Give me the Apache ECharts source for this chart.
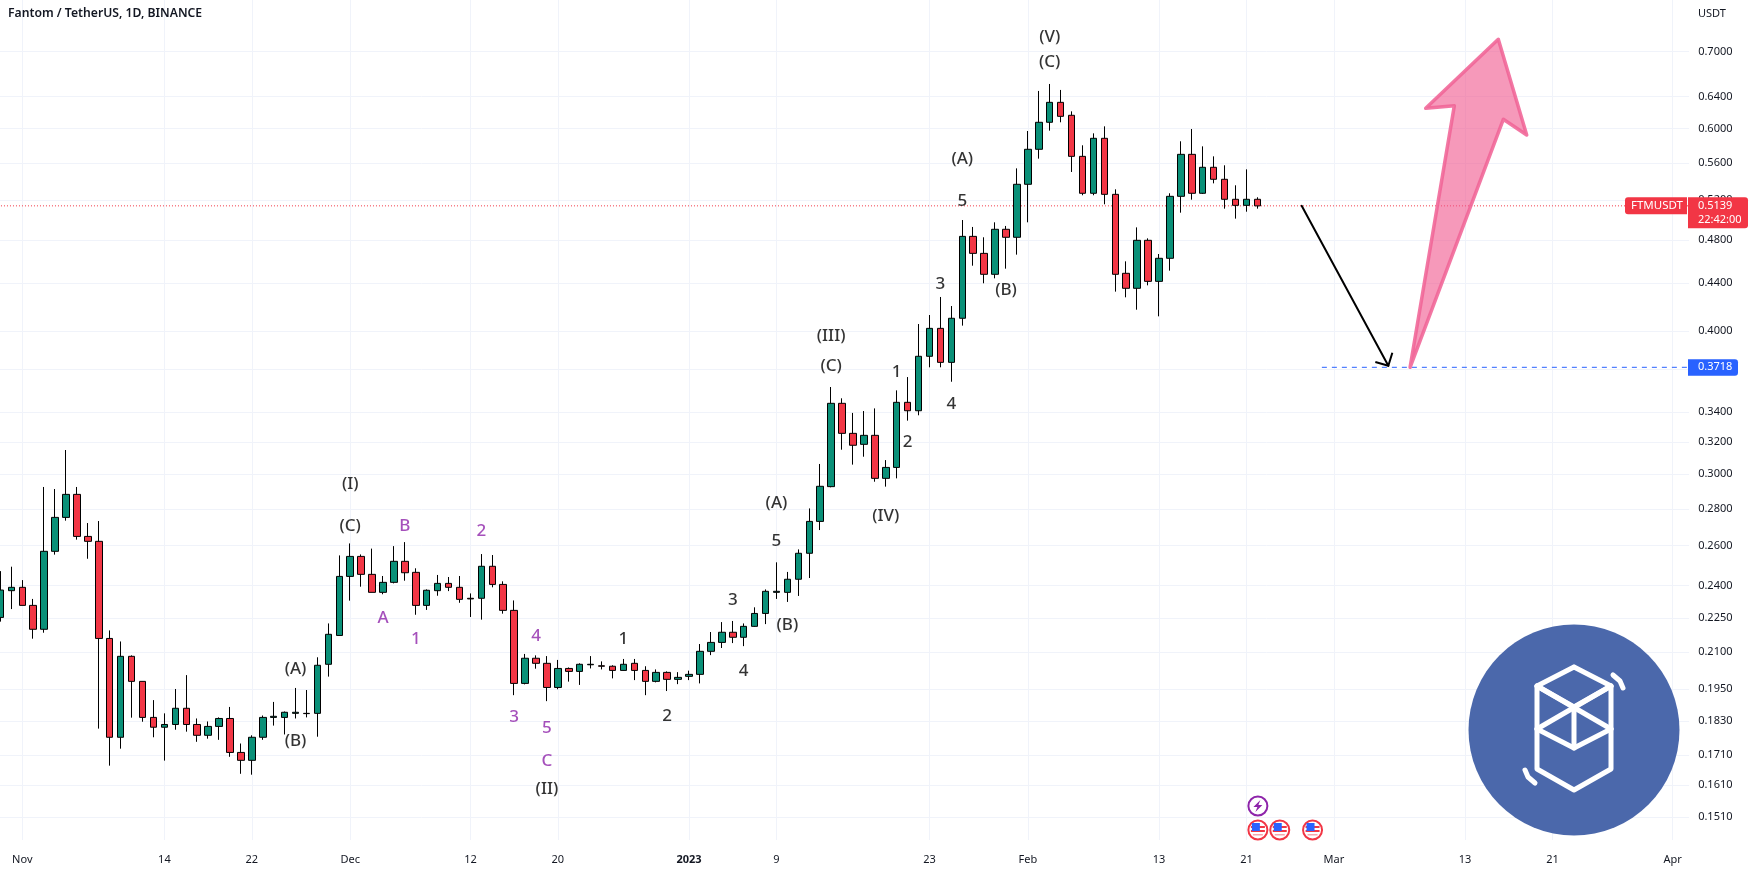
<!DOCTYPE html>
<html><head><meta charset="utf-8"><style>html,body{margin:0;padding:0;background:#fff}#main{width:1752px;height:871px}</style></head>
<body><div id="main"></div>
<script src="https://cdn.jsdelivr.net/npm/echarts@6/dist/echarts.min.js"></script>
<script>
const FONT = "'Noto Sans', sans-serif";
const startDay = -2;  // first candle, days after 1 Nov 2022
const endDay = 152;
const opens = [
.2252,.2376,.2392,.2307,.2199,.2571,.2752,.2882,.2649,.2623,
.2159,.1771,.2083,.1981,.1843,.1807,.1817,.1877,.1817,.1778,
.1810,.1839,.1718,.1691,.1771,.1843,.1843,.1858,.1858,.1858,
.2050,.2172,.2445,.2545,.2455,.2368,.2416,.2520,.2465,.2307,
.2376,.2411,.2392,.2340,.2340,.2495,.2406,.2284,.1973,.2075,
.2054,.1957,.2033,.2021,.2048,.2044,.2042,.2025,.2054,.2025,
.1981,.2017,.1989,.2001,.2009,.2104,.2142,.2186,.2164,.2212,
.2270,.2368,.2368,.2431,.2561,.2730,.2927,.3459,.3257,.3186,
.3244,.2976,.3042,.3466,.3408,.3801,.4020,.3755,.4102,.4834,
.4672,.4480,.4903,.4825,.5366,.5756,.6076,.6324,.6162,.5675,
.5270,.5884,.5259,.4489,.4356,.4796,.4417,.4626,.5238,.5698,
.5270,.5552,.5420,.5207,.5144,.5207];
const closes = [
.2379,.2392,.2307,.2199,.2571,.2752,.2882,.2649,.2623,.2159,
.1771,.2083,.1981,.1843,.1807,.1817,.1877,.1817,.1778,.1810,
.1839,.1718,.1691,.1771,.1843,.1847,.1862,.1862,.1857,.2046,
.2177,.2445,.2545,.2455,.2368,.2416,.2520,.2463,.2307,.2378,
.2411,.2392,.2335,.2337,.2495,.2406,.2284,.1973,.2075,.2054,
.1957,.2033,.2021,.2050,.2050,.2042,.2025,.2050,.2025,.1981,
.2017,.1989,.1997,.2009,.2104,.2142,.2186,.2164,.2212,.2270,
.2373,.2373,.2431,.2561,.2730,.2929,.3459,.3257,.3180,.3244,
.2976,.3042,.3466,.3408,.3801,.4020,.3755,.4102,.4834,.4672,
.4480,.4903,.4825,.5366,.5756,.6076,.6324,.6149,.5675,.5270,
.5884,.5259,.4480,.4356,.4796,.4417,.4626,.5238,.5698,.5270,
.5552,.5420,.5207,.5144,.5207,.5139];
const lows = [
.2233,.2290,.2307,.2158,.2184,.2554,.2734,.2632,.2533,.1802,
.1673,.1731,.1842,.1827,.1771,.1690,.1798,.1791,.1755,.1766,
.1762,.1703,.1646,.1643,.1762,.1813,.1781,.1839,.1843,.1773,
.2000,.2172,.2329,.2395,.2368,.2359,.2411,.2424,.2264,.2286,
.2352,.2374,.2319,.2254,.2242,.2392,.2269,.1927,.1969,.2032,
.1904,.1950,.1980,.1967,.2033,.2029,.1993,.2024,.1986,.1927,
.1977,.1943,.1970,.1986,.1973,.2088,.2118,.2139,.2126,.2210,
.2222,.2337,.2323,.2351,.2437,.2683,.2923,.3152,.3059,.3108,
.2956,.2927,.2976,.3341,.3377,.3718,.3718,.3612,.4042,.4558,
.4400,.4444,.4531,.4660,.4972,.5649,.5975,.6076,.5500,.5249,
.5249,.5155,.4327,.4278,.4173,.4382,.4118,.4513,.5069,.5203,
.5263,.5376,.5110,.5009,.5079,.5110];
const highs = [
.2471,.2493,.2427,.2337,.2925,.2913,.3150,.2925,.2721,.2732,
.2194,.2146,.2087,.1981,.1908,.1858,.1951,.2006,.1839,.1828,
.1843,.1882,.1749,.1778,.1850,.1901,.1865,.1955,.1947,.2079,
.2225,.2550,.2612,.2555,.2585,.2447,.2598,.2619,.2485,.2382,
.2452,.2442,.2447,.2363,.2557,.2552,.2421,.2330,.2093,.2087,
.2084,.2068,.2037,.2054,.2084,.2062,.2046,.2072,.2072,.2042,
.2029,.2021,.2018,.2024,.2135,.2187,.2231,.2236,.2225,.2298,
.2382,.2515,.2467,.2581,.2802,.3063,.3574,.3494,.3393,.3406,
.3424,.3087,.3550,.3646,.4055,.4129,.4281,.4204,.4995,.4926,
.4825,.4972,.4936,.5540,.5971,.6470,.6561,.6483,.6211,.5802,
.5943,.6027,.5312,.4598,.4922,.4815,.4666,.5270,.5849,.5995,
.5790,.5675,.5574,.5355,.5529,.5228];
const priceTicks = [0.70,0.64,0.60,0.56,0.52,0.48,0.44,0.40,0.37,0.34,0.32,0.30,0.28,0.26,0.24,0.225,0.21,0.195,0.183,0.171,0.161,0.151];
const timeTickDays = [0,13,21,30,41,49,61,69,83,92,104,112,120,132,140,151];
const timeTickLabels = ['Nov','14','22','Dec','12','20','2023','9','23','Feb','13','21','Mar','13','21','Apr'];
const lastPrice = 0.5139;
const targetPrice = 0.3718;
const waveTexts = ['(I)','(C)','(A)','(B)','A','B','2','1','4','3','5','C','(II)','1','2','3','4','(A)','5','(B)','(III)','(C)','1','2','4','(IV)','3','(V)','(C)','(A)','5','(B)'];
const waveDays = [30,30,25,25,33,35,42,36,47,45,48,48,48,55,59,65,66,69,69,70,74,74,80,81,85,79,84,94,94,86,86,90];
const wavePrices = [.2947,.2711,.2036,.1761,.2252,.2711,.2680,.2160,.2174,.1849,.1809,.1690,.1599,.2162,.1852,.2337,.2026,.2835,.2627,.2222,.3963,.3737,.3691,.3209,.3459,.2762,.4405,.7228,.6875,.5649,.5197,.4347];
const purpleWaves = [4,5,6,7,8,9,10,11];
const blackArrowDays = [117.05,124.98];
const blackArrowPrices = [0.5139,0.3730];
const pinkArrowDays = [126.97,131.02,128.4,135.04,137.64,135.5];
const pinkArrowPrices = [0.3718,0.6282,0.6249,0.7176,0.5923,0.6113];
const targetLineDays = [118.9,152.5];
const lightningDay = 113;
const flagDays = [113,115,118];

const BAND = 10.93;
const GRID_LEFT = 22.3 - (0 - startDay + 0.5) * BAND;
const dayToLabel = {};
timeTickDays.forEach((d,i)=>dayToLabel[d]=timeTickLabels[i]);
const categories = [];
for (let d=startDay; d<=endDay; d++) categories.push(String(d));
const candles = opens.map((o,i)=>[o,closes[i],lows[i],highs[i]]);
const isTick = i => (i+startDay) in dayToLabel;

const chart = echarts.init(document.getElementById('main'),null,{renderer:'canvas'});
const RED='#f23645', GREEN='#0a9078', TXT='#131722', GRID='#f0f3fa', PURPLE='#8e24aa', BLUE='#2962ff';
chart.setOption({
  animation:false, backgroundColor:'#fff',
  title:{text:'Fantom / TetherUS, 1D, BINANCE',left:8,top:8,padding:0,textStyle:{fontFamily:FONT,fontSize:12.2,fontWeight:600,color:TXT}},
  grid:{left:GRID_LEFT,top:0,width:BAND*(endDay-startDay+1),height:840,containLabel:false,show:false,outerBoundsMode:'none'},
  xAxis:[{
    type:'category',data:categories,boundaryGap:true,
    axisLine:{show:false},axisTick:{show:false},
    splitLine:{show:true,alignWithLabel:true,interval:(i)=>isTick(i),lineStyle:{color:GRID,width:1}},
    axisLabel:{interval:(i)=>isTick(i),margin:14,fontFamily:FONT,fontSize:11,color:TXT,
      formatter:(v)=>{const t=dayToLabel[+v];return t==='2023'?'{b|2023}':t;},
      rich:{b:{fontFamily:FONT,fontSize:11,fontWeight:'bold',color:TXT}}}
  },{
    type:'value',show:false,min:startDay-0.5,max:endDay+0.5,splitLine:{show:false},axisLabel:{show:false}
  }],
  yAxis:{
    type:'log',logBase:10,position:'right',min:0.14414,max:0.7764,
    axisLine:{show:false},
    axisTick:{show:false,customValues:priceTicks},
    minorTick:{show:false},minorSplitLine:{show:false},
    splitLine:{show:true,lineStyle:{color:GRID,width:1}},
    axisLabel:{customValues:priceTicks,margin:9,fontFamily:FONT,fontSize:11,color:TXT,align:'left',formatter:(v)=>Number(v).toFixed(4),showMinLabel:true,showMaxLabel:true,hideOverlap:false}
  },
  series:[
    {type:'line',xAxisIndex:1,yAxisIndex:0,data:[[startDay-0.5,lastPrice],[endDay+0.5,lastPrice]],symbol:'none',silent:true,z:1,
      lineStyle:{color:RED,width:1,type:[1,2]}},
    {type:'line',xAxisIndex:1,yAxisIndex:0,data:targetLineDays.map(d=>[d,targetPrice]),symbol:'none',silent:true,z:1,
      lineStyle:{color:BLUE,width:1,type:[5,5]}},
    {type:'candlestick',xAxisIndex:0,yAxisIndex:0,data:candles,barWidth:7,z:2,
      itemStyle:{color:GREEN,color0:RED,borderColor:'#000',borderColor0:'#000',borderWidth:1,borderColorDoji:'#000'}},
    {type:'scatter',xAxisIndex:1,yAxisIndex:0,symbolSize:0,z:5,silent:true,
      data:waveTexts.map((t,i)=>({value:[waveDays[i],wavePrices[i]],name:t,
        label:{show:true,position:'inside',offset:[0,1],formatter:t,fontFamily:FONT,fontSize:17,fontWeight:500,color:purpleWaves.includes(i)?PURPLE:'#000'}}))},
    {type:'line',xAxisIndex:1,yAxisIndex:0,data:blackArrowDays.map((d,i)=>[d,blackArrowPrices[i]]),symbol:'none',silent:true,z:4,
      lineStyle:{color:'#000',width:2,cap:'round'}},
    {type:'custom',xAxisIndex:1,yAxisIndex:0,z:4,silent:true,clip:false,
      data:pinkArrowDays.map((d,i)=>[d,pinkArrowPrices[i]]),
      encode:{x:0,y:1},
      renderItem:(p,api)=>{
        if(p.dataIndex!==0) return null;
        const pts=pinkArrowDays.map((d,i)=>api.coord([d,pinkArrowPrices[i]]));
        return {type:'polygon',shape:{points:pts},style:{fill:'rgba(240,85,140,0.6)',stroke:'rgba(240,100,150,0.88)',lineWidth:3.5,lineJoin:'round'}};
      }}
  ]
});

// overlays anchored on the axes
const xAt = d => chart.convertToPixel({xAxisIndex:1},d);
const yAt = p => chart.convertToPixel({yAxisIndex:0},p);
const yL = yAt(lastPrice), yT = yAt(targetPrice);
const tip = [xAt(blackArrowDays[1]), yAt(blackArrowPrices[1])];
const txt = (x,y,t,c,fs,w,al)=>({type:'text',x,y,z:20,style:{text:t,fill:c,font:(w||'normal')+' '+(fs||11)+'px '+FONT,textVerticalAlign:'middle',textAlign:al||'left'}});
const rect = (x,y,w,h,r,f)=>({type:'rect',z:19,shape:{x,y,width:w,height:h,r},style:{fill:f}});
const W='#fff';
const poly=(pts)=>({type:'polyline',shape:{points:pts},style:{stroke:W,lineWidth:5,fill:null,lineCap:'round',lineJoin:'round'}});
const LT=[-37,-44],RT=[37,-44],TP=[0,-63],CU=[0,-23],LM=[-37,-1],RM=[37,-1],CL=[0,18],LB=[-37,39],RB=[37,39],BT=[0,60];
const logo={type:'group',x:1574,y:730,z:10,children:[
  {type:'circle',shape:{cx:0,cy:0,r:105.5},style:{fill:'#4b68ab'}},
  poly([TP,RT,RB,BT,LB,LT,TP]),poly([LT,CU,RT]),poly([LT,RM]),poly([RT,LM]),poly([LM,CL,RM]),poly([CU,CL]),
  poly([[39,-55],[46,-49],[49,-42]]),poly([[-49,40],[-46,47],[-39,53]])
]};
const flag=(d)=>({type:'group',x:xAt(d)+0.5,y:830,z:12,children:[
  {type:'circle',shape:{cx:0,cy:0,r:9.5},style:{fill:'#fff',stroke:RED,lineWidth:2}},
  {type:'rect',shape:{x:-7,y:-4,width:14,height:2},style:{fill:RED}},
  {type:'rect',shape:{x:-7,y:0,width:14,height:2},style:{fill:RED}},
  {type:'rect',shape:{x:-6,y:-7,width:8,height:8},style:{fill:BLUE}},
  {type:'rect',shape:{x:-5,y:4,width:10,height:1.5},style:{fill:'#f6a5ae'}},
]});
const bolt={type:'group',x:xAt(lightningDay)+0.5,y:806,z:12,children:[
  {type:'circle',shape:{cx:0,cy:0,r:9.5},style:{fill:'#fff',stroke:PURPLE,lineWidth:2}},
  {type:'polygon',shape:{points:[[2.5,-6],[-4.5,1],[-0.5,1],[-2.5,6],[4.5,-1],[0.5,-1]]},style:{fill:PURPLE}}
]};
chart.setOption({graphic:[
  txt(1698,13.5,'USDT',TXT),
  {type:'polyline',z:6,shape:{points:[[tip[0]-13,tip[1]-3.7],tip,[tip[0]+4,tip[1]-13]]},style:{stroke:'#000',lineWidth:2,fill:null}},
  rect(1625,yL-8.7,62,17,[3,0,0,3],RED), txt(1631,yL,'FTMUSDT',W,11.5),
  rect(1688,yL-8.7,60,31,[0,3,3,0],RED), txt(1698,yL,'0.5139',W), txt(1698,yL+14.5,'22:42:00',W),
  rect(1688,yT-8,50,16.5,[0,3,3,0],BLUE), txt(1698,yT,'0.3718',W),
  logo,bolt,...flagDays.map(flag)
]});
</script></body></html>
